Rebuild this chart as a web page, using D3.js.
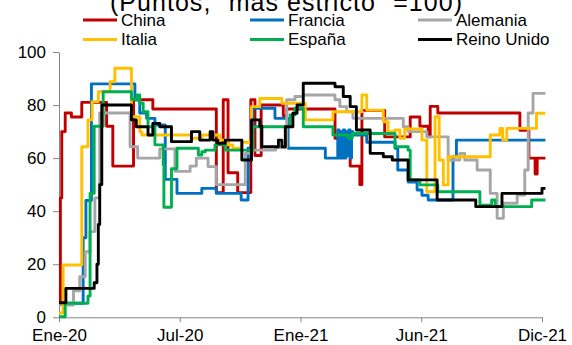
<!DOCTYPE html>
<html><head><meta charset="utf-8">
<script src="https://cdn.jsdelivr.net/npm/d3@7"></script>
<style>
html,body{margin:0;padding:0;background:#fff;}
svg{display:block;font-family:"Liberation Sans",Arial,sans-serif;}
</style></head>
<body><svg id="c" width="572" height="345"></svg>
<script>
// x values are days since the start of the series (Ene-20)
const tickDays = [0, 175, 350, 525, 700];
const tickLabels = ["Ene-20", "Jul-20", "Ene-21", "Jun-21", "Dic-21"];
const yTicks = [0, 20, 40, 60, 80, 100];
const seriesNames = ["China", "Francia", "Alemania", "Italia", "España", "Reino Unido"];
const seriesColors = ["#C00000", "#0070C0", "#A6A6A6", "#FFC000", "#00B050", "#000000"];

const china = [[0,5],[2,45],[4,70],[9,77],[18,75.5],[33,81],[69,72],[78,57],[108,82],[136,78.5],[228,47],[238,82],[245,54.5],[259,47],[278,82],[284,61],[293,80],[325,76],[330,78.5],[400,67.5],[422,57],[436,50],[439,78],[472,68],[509,75.5],[523,72],[535,68],[538,79.5],[549,77],[668,70.5],[681,60],[690,54],[693,60],[705,60]];
const francia = [[0,5.3],[35,30],[39,44],[47,88],[110,82],[117,77],[127,75],[139,72.5],[154,52],[171,46.7],[207,48.6],[228,46.7],[264,44.2],[274,63.7],[281,78.8],[313,75],[332,63.7],[386,60],[404,70.6],[406,60],[408,70],[410,60],[412,70.6],[414,60],[416,70],[418,61],[420,70.6],[422,60],[424,70],[426,68.7],[446,66],[487,63.7],[491,55.5],[506,51],[519,48],[526,46],[535,44.2],[571,60.5],[576,66.8],[705,66.8]];
const alemania = [[0,4.6],[21,10],[30,15.3],[38,24.7],[45,32.3],[52,45],[59,77],[103,64.3],[114,60],[146,63.5],[168,55],[190,57],[199,60],[216,56.8],[228,50],[270,61.8],[280,63],[314,64],[330,82],[342,83.2],[354,83.8],[400,82],[407,79.4],[417,77.5],[426,75],[499,71.8],[506,70],[533,68],[564,59.3],[581,61.8],[588,59.3],[606,55.5],[625,46.7],[635,37.3],[644,43],[664,46.1],[675,55.5],[680,77],[687,84.4],[705,84.4]];
const italia = [[0,1.6],[6,19.7],[33,64.3],[42,74.4],[48,81.3],[57,85],[74,88.8],[81,93.9],[105,75.6],[117,70],[120,68.7],[192,67.5],[207,68.7],[233,66.8],[245,65],[252,63.7],[265,66],[279,79.4],[291,82.5],[323,80.7],[357,74.4],[397,77.5],[439,83.8],[446,78.1],[470,73.7],[477,70],[487,70.6],[494,67.5],[501,71],[526,66.8],[533,47.3],[545,75.6],[551,59.3],[557,49.9],[564,60.5],[625,68.7],[639,71.2],[643,66.8],[649,71.2],[692,76.9],[705,76.9]];
const espana = [[0,0.2],[9,5.3],[42,8],[45,46.7],[51,72],[64,85],[105,82.2],[113,83.8],[117,80.7],[122,77.5],[129,71.8],[139,65],[151,57.4],[152,41.5],[163,56],[171,63.7],[202,61.2],[207,62.4],[212,63],[226,65],[241,63],[281,71.8],[335,76.3],[342,78.8],[354,71.8],[397,68.7],[419,67.5],[425,69.3],[487,64.3],[506,63],[509,51.8],[523,49.9],[549,47.3],[610,42.3],[627,44.2],[632,41.7],[685,44.2],[705,44.2]];
const reinoUnido = [[0,5.5],[10,10.9],[51,13],[55,20],[57,35],[59,50],[62,80],[105,74.4],[112,71.8],[129,68.7],[136,73.1],[146,71.8],[163,66.2],[192,70],[204,66.8],[219,70],[223,66.8],[230,65.6],[241,66.8],[265,59.3],[279,74.4],[291,72],[294,64.3],[318,66.8],[323,64.3],[328,71.8],[339,76.9],[345,80],[354,88.2],[400,86.9],[412,83.2],[422,79.4],[431,70.6],[451,61.8],[470,60.5],[483,59.3],[506,51.8],[548,44.2],[604,41.7],[642,46.7],[700,48.6],[705,48.6]];

const allSeries = [china, francia, alemania, italia, espana, reinoUnido];

const svg = d3.select("#c");
const x = d3.scaleLinear().domain([0, 700]).range([59, 542]);
const y = d3.scaleLinear().domain([0, 100]).range([317.3, 52]);
const axisColor = "#868686";

// title (partially cut off at top, as in the reference)
svg.append("text").attr("x", 286).attr("y", 11).attr("text-anchor", "middle")
  .attr("font-size", 25).attr("fill", "#000")
  .attr("textLength", 352).attr("lengthAdjust", "spacing")
  .text("(Puntos, \u201Cmás estricto\u201D =100)");

// legend
const legCols = [83, 250, 418];
const legRows = [20, 39.5];
seriesNames.forEach((n, i) => {
  const cx = legCols[i % 3], cy = legRows[Math.floor(i / 3)];
  svg.append("line").attr("x1", cx).attr("x2", cx + 34).attr("y1", cy).attr("y2", cy)
    .attr("stroke", seriesColors[i]).attr("stroke-width", 3);
  svg.append("text").attr("x", cx + 38).attr("y", cy).attr("dy", "0.35em")
    .attr("font-size", 17).attr("fill", "#000").text(n);
});

// axes
const yAxis = svg.append("g").attr("transform", "translate(59,0)")
  .call(d3.axisLeft(y).tickValues(yTicks).tickSize(6).tickPadding(7).tickSizeOuter(0));
const xAxis = svg.append("g").attr("transform", "translate(0,317.3)")
  .call(d3.axisBottom(x).tickValues(tickDays).tickFormat((d, i) => tickLabels[i]).tickSize(5).tickPadding(7).tickSizeOuter(0));
[yAxis, xAxis].forEach(g => {
  g.selectAll("path,line").attr("stroke", axisColor);
  g.selectAll("text").attr("font-size", 17).attr("fill", "#000")
    .attr("font-family", "\"Liberation Sans\",Arial,sans-serif");
});

// lines
const line = d3.line().x(d => x(d[0])).y(d => y(d[1])).curve(d3.curveStepAfter);
allSeries.forEach((s, i) => {
  svg.append("path").datum(s).attr("d", line).attr("fill", "none")
    .attr("stroke", seriesColors[i]).attr("stroke-width", 2.9)
    .attr("stroke-linejoin", "round");
});
</script></body></html>
